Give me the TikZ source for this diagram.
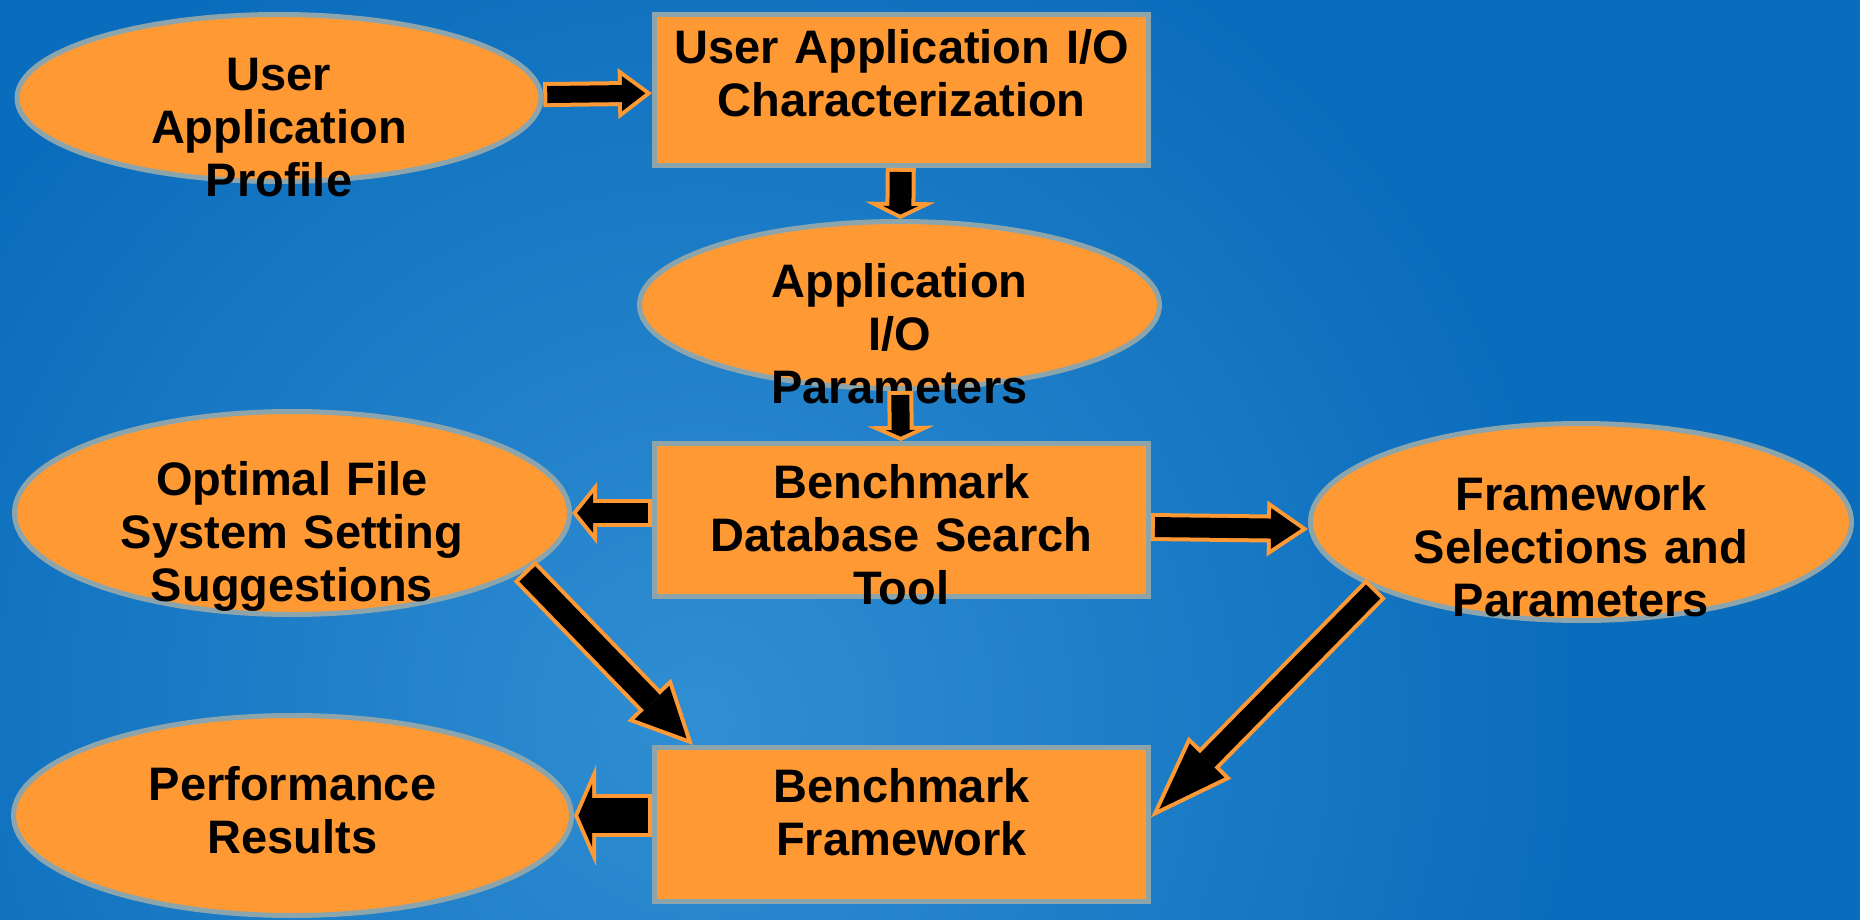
\documentclass[tikz,border=0pt]{standalone}
\usepackage{fontspec}
\setmainfont{Liberation Sans}
\usetikzlibrary{shapes.geometric, arrows.meta}

\definecolor{bgblue}{RGB}{10,108,188}
\definecolor{bglight}{RGB}{48,142,210}
\definecolor{boxorange}{RGB}{255,153,51}
\definecolor{rim}{RGB}{140,165,172}

\tikzset{
  item/.style={fill=boxorange, draw=rim, line width=2.5pt, inner sep=0pt,
    align=center, text height=0pt,
    font=\fontsize{23.5pt}{26.5pt}\selectfont\bfseries},
  oval/.style={item, ellipse, text width=180pt},
  plate/.style={item, rectangle, text width=240pt},
  drop/.style={text depth=#1},
  % block arrow: shaft width, head width, head length (outer sizes, pt)
  barrow/.style n args={3}{
    /utils/exec={%
      \pgfmathsetmacro\shaftin{#1-4}%
      \pgfmathsetmacro\tipgap{2/sin(atan2(#2/2,#3))}%
      \pgfmathsetmacro\headlen{#3-\tipgap-2}%
      \pgfmathsetmacro\headwd{#2*\headlen/#3}%
    },
    preaction={draw=boxorange, line width=#1pt, shorten <=0pt, shorten >=0pt,
      -{Triangle[length=#3pt, width=#2pt, line width=0pt]}},
    draw=black, line width=\shaftin pt, shorten <=2pt, shorten >=\tipgap pt,
    -{Triangle[length=\headlen pt, width=\headwd pt, line width=0pt]}
  }
}

\begin{document}
\begin{tikzpicture}[x=0.5pt, y=-0.5pt]
  \useasboundingbox (0,0) rectangle (1860,920);
  \fill[bgblue] (0,0) rectangle (1860,920);
  \begin{scope}
    \clip (0,0) rectangle (1860,920);
    \shade[inner color=bglight, outer color=bgblue] (700,720) circle[radius=440pt];
  \end{scope}

  \node[oval, minimum width=262pt, minimum height=83.5pt, drop=7pt] (user) at (279,98)
    {User\\Application\\Profile};
  \node[plate, minimum width=247pt, minimum height=75.5pt, drop=26pt] (char) at (901.5,90)
    {User Application I/O\\Characterization};
  \node[oval, minimum width=260pt, minimum height=83.5pt, drop=7pt] (params) at (899.5,305)
    {Application\\I/O\\Parameters};
  \node[plate, minimum width=247pt, minimum height=76.5pt, drop=22pt] (db) at (901.5,520)
    {Benchmark\\Database Search\\Tool};
  \node[oval, minimum width=277.5pt, minimum height=101.5pt, drop=18pt] (opt) at (292,513)
    {Optimal File\\System Setting\\Suggestions};
  \node[oval, minimum width=270.5pt, minimum height=98.5pt, drop=12pt] (fw) at (1581,522)
    {Framework\\Selections and\\Parameters};
  \node[oval, minimum width=279pt, minimum height=100pt, drop=15.5pt] (perf) at (292.5,815.5)
    {Performance\\Results};
  \node[plate, minimum width=247pt, minimum height=77pt, drop=22.5pt] (bfw) at (901.5,824.5)
    {Benchmark\\Framework};

  \draw[barrow={12.5}{25.5}{17}] (user) -- (char);
  \draw[barrow={15}{35}{8.5}] (char) -- (params);
  \draw[barrow={13}{33.5}{7.5}] (params) -- (db);
  \draw[barrow={14}{31}{12.5}] (db.west |- opt.east) -- (opt.east);
  \draw[barrow={14}{28}{20.5}] ([yshift=-3.5pt]db.east) -- ([yshift=-3.5pt]fw.west);
  \draw[barrow={15}{30.5}{31.5}] (opt.-14) -- ([xshift=20.5pt]bfw.north west);
  \draw[barrow={14}{30}{42}] (fw.198) -- ([yshift=3.5pt]bfw.east);
  \draw[barrow={21.5}{50.5}{11}] (bfw.west |- perf.east) -- (perf.east);
\end{tikzpicture}
\end{document}
